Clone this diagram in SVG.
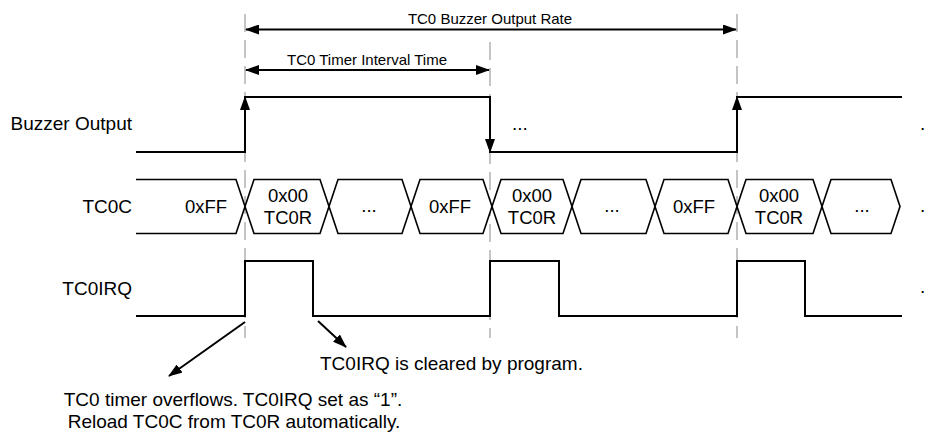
<svg xmlns="http://www.w3.org/2000/svg" width="927" height="434" viewBox="0 0 927 434">
<style>
text{font-family:"Liberation Sans",Arial,sans-serif;fill:#000}
.lbl{font-size:19px}
.top{font-size:15px;text-anchor:middle}
.bus{font-size:18.5px;text-anchor:middle}
.guide{stroke:#c4c4c4;stroke-width:2;stroke-dasharray:18 8;fill:none}
.sig{stroke:#000;stroke-width:2;fill:none}
.hex{stroke:#000;stroke-width:1.6;fill:#fff;stroke-linejoin:miter}
.conn{stroke:#000;stroke-width:2;fill:none}
</style>
<defs>
<marker id="ah" viewBox="0 0 14 10" refX="13" refY="5" markerWidth="14" markerHeight="10" markerUnits="userSpaceOnUse" orient="auto-start-reverse">
<path d="M0,0 L14,5 L0,10 Z" fill="#000"/>
</marker>
</defs>
<rect width="927" height="434" fill="#fff"/>
<g id="guidelines">
<line class="guide" x1="245" y1="14" x2="245" y2="338"/>
<line class="guide" x1="490" y1="42" x2="490" y2="338"/>
<line class="guide" x1="737" y1="14" x2="737" y2="338"/>
</g>
<g id="buzzer-output">
<text class="lbl" x="132" y="130" text-anchor="end">Buzzer Output</text>
<path class="sig" d="M136,152 H245 V97 H490 V152 H737 V97 H902"/>
<text class="lbl" x="512" y="130">...</text>
<text class="lbl" x="920" y="130">.</text>
</g>
<g id="tc0c">
<text class="lbl" x="132" y="213" text-anchor="end">TC0C</text>
<path class="hex" fill="none" d="M136,179.5 H236 L245,206.5 L236,233.5 H136"/>
<text class="bus" x="206" y="213">0xFF</text>
<polygon class="hex" points="245,206.5 254,179.5 320,179.5 329,206.5 320,233.5 254,233.5"/>
<text class="bus" x="288" y="202">0x00</text><text class="bus" x="288" y="223.5">TC0R</text>
<polygon class="hex" points="329,206.5 338,179.5 402,179.5 411,206.5 402,233.5 338,233.5"/>
<text class="bus" x="369" y="212">...</text>
<polygon class="hex" points="411,206.5 420,179.5 483,179.5 492,206.5 483,233.5 420,233.5"/>
<text class="bus" x="450" y="213">0xFF</text>
<polygon class="hex" points="492,206.5 501,179.5 563,179.5 572,206.5 563,233.5 501,233.5"/>
<text class="bus" x="532" y="202">0x00</text><text class="bus" x="532" y="223.5">TC0R</text>
<polygon class="hex" points="572,206.5 581,179.5 646,179.5 655,206.5 646,233.5 581,233.5"/>
<text class="bus" x="612" y="212">...</text>
<polygon class="hex" points="655,206.5 664,179.5 728,179.5 737,206.5 728,233.5 664,233.5"/>
<text class="bus" x="694" y="213">0xFF</text>
<polygon class="hex" points="737,206.5 746,179.5 813,179.5 822,206.5 813,233.5 746,233.5"/>
<text class="bus" x="779" y="202">0x00</text><text class="bus" x="779" y="223.5">TC0R</text>
<polygon class="hex" points="822,206.5 831,179.5 891,179.5 900,206.5 891,233.5 831,233.5"/>
<text class="bus" x="862" y="212">...</text>
<text class="lbl" x="920" y="212">.</text>
</g>
<g id="tc0irq">
<text class="lbl" x="132" y="295" text-anchor="end">TC0IRQ</text>
<path class="sig" d="M136,316 H245 V261 H313 V316 H490 V261 H559 V316 H737 V261 H805 V316 H902"/>
<text class="lbl" x="920" y="293">.</text>
</g>
<g id="notes">
<text class="top" x="490" y="24">TC0 Buzzer Output Rate</text>
<text class="top" x="367" y="65">TC0 Timer Interval Time</text>
<text class="lbl" x="320" y="370">TC0IRQ is cleared by program.</text>
<text class="lbl" x="233" y="406" text-anchor="middle">TC0 timer overflows. TC0IRQ set as “1”.</text>
<text class="lbl" x="234" y="428" text-anchor="middle">Reload TC0C from TC0R automatically.</text>
</g>
<g id="connectors">
<line class="conn" x1="246" y1="29.5" x2="736" y2="29.5" marker-start="url(#ah)" marker-end="url(#ah)"/>
<line class="conn" x1="246" y1="70" x2="489" y2="70" marker-start="url(#ah)" marker-end="url(#ah)"/>
<line class="conn" x1="245" y1="120" x2="245" y2="97" marker-end="url(#ah)"/>
<line class="conn" x1="490" y1="130" x2="490" y2="152" marker-end="url(#ah)"/>
<line class="conn" x1="737" y1="120" x2="737" y2="97" marker-end="url(#ah)"/>
<line class="conn" x1="245" y1="322" x2="169" y2="376" marker-end="url(#ah)"/>
<line class="conn" x1="318" y1="321" x2="346" y2="347" marker-end="url(#ah)"/>
</g>
</svg>
